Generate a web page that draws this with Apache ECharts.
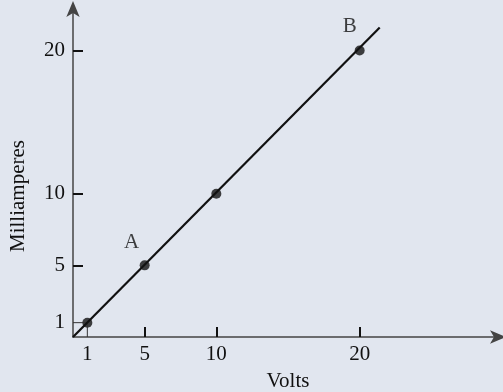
<!DOCTYPE html>
<html>
<head>
<meta charset="utf-8">
<script src="https://cdn.jsdelivr.net/npm/echarts@6/dist/echarts.min.js"></script>
<style>
  html, body { margin: 0; padding: 0; background: #e1e6ef; }
  #chart { width: 503px; height: 392px; }
</style>
</head>
<body>
<div id="chart"></div>
<script>
// measured points (volts, milliamperes)
const points = [[1, 1], [5, 5], [10, 10], [20, 20]];
const pointNames = ['', 'A', '', 'B'];
const fitLine = [[0, 0], [21.4, 21.6]];
const guide = [[0, 1], [1, 1], [1, 0]];
const xLabels = [1, 5, 10, 20];
const xTicks = [5, 10, 20];
const yLabels = [1, 5, 10, 20];
const yTicks = [5, 10, 20];

const ink = '#111';
const font = 'Liberation Serif, Times New Roman, serif';

const chart = echarts.init(document.getElementById('chart'));

const option = {
  backgroundColor: '#e1e6ef',
  animation: false,
  grid: { left: 73, top: 5, width: 430, bottom: 55, outerBoundsMode: 'none', containLabel: false },
  xAxis: {
    type: 'value', min: 0, max: 30,
    name: 'Volts', nameLocation: 'middle', nameGap: 34,
    nameTextStyle: { color: ink, fontFamily: font, fontSize: 21 },
    axisLine: { lineStyle: { color: '#444', width: 1.5 }, symbol: ['none', 'arrow'], symbolSize: [10, 16], symbolOffset: [0, 3] },
    axisTick: { show: true, inside: true, length: 10, lineStyle: { color: ink, width: 2 }, customValues: xTicks },
    axisLabel: { color: ink, fontFamily: font, fontSize: 21, margin: 7, customValues: xLabels },
    splitLine: { show: false }
  },
  yAxis: {
    type: 'value', min: 0, max: 23.17,
    axisLine: { lineStyle: { color: '#444', width: 1.5 }, symbol: ['none', 'arrow'], symbolSize: [10, 16], symbolOffset: [0, 4] },
    axisTick: { show: true, inside: true, length: 10, lineStyle: { color: ink, width: 2 }, customValues: yTicks },
    axisLabel: { color: ink, fontFamily: font, fontSize: 21, margin: 8, customValues: yLabels },
    splitLine: { show: false }
  },
  graphic: [{
    type: 'text',
    rotation: Math.PI / 2,
    x: 18, y: 196,
    style: { text: 'Milliamperes', fill: ink, font: '21px ' + font, textAlign: 'center', textVerticalAlign: 'middle' }
  }],
  series: [
    {
      type: 'line', data: guide, symbol: 'none', silent: true,
      lineStyle: { color: '#333', width: 1 }
    },
    {
      type: 'line', data: fitLine, symbol: 'none', silent: true,
      lineStyle: { color: ink, width: 2.2 }
    },
    {
      type: 'scatter', symbolSize: 10, silent: true,
      itemStyle: { color: ink },
      data: points.map((p, i) => ({
        value: p,
        label: {
          show: pointNames[i] !== '',
          formatter: pointNames[i],
          position: 'top',
          offset: [i === 1 ? -13 : -10, i === 1 ? -2 : -3],
          color: ink, fontFamily: font, fontSize: 21
        }
      }))
    }
  ]
};

chart.setOption(option);
</script>
</body>
</html>
